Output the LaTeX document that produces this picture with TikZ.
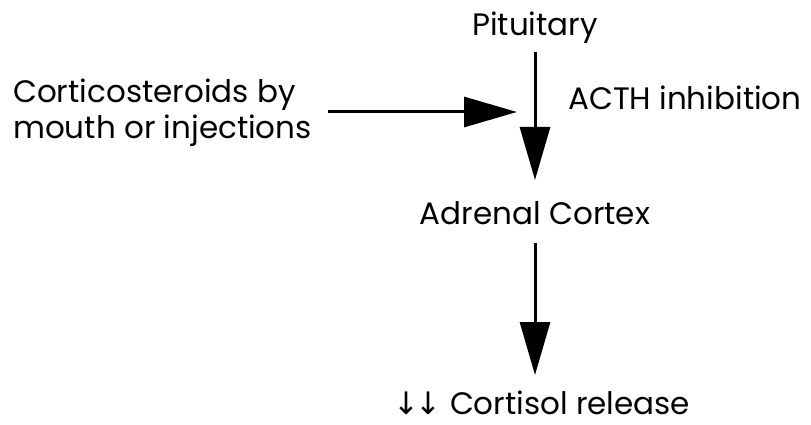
\documentclass[tikz,border=0pt]{standalone}
\usepackage{fontspec}
\setmainfont{Poppins}
\newfontfamily\symfont{DejaVu Sans}
\usetikzlibrary{positioning,arrows.meta}
\tikzset{
  lbl/.style={inner sep=0pt, font=\fontsize{31}{36}\selectfont, text=black},
  flow/.style={line width=3pt, -{Triangle[length=53pt,width=30pt]}}
}
\begin{document}
\begin{tikzpicture}[x=1pt,y=-1pt]
\useasboundingbox (0,0) rectangle (811,425);
\node[lbl] (pit) at (535,28) {Pituitary};
\node[lbl, align=left, anchor=west] (cort) at (13,113) {Corticosteroids by\\mouth or injections};
\node[lbl, anchor=west] (acth) at (568,98) {ACTH inhibition};
\node[lbl] (adr) at (535,213) {Adrenal Cortex};
\node[lbl] (rel) at (542,403) {{\symfont↓\kern-4pt↓} Cortisol release};
\coordinate (top) at (535,52);
\coordinate (mid) at (535,180);
\coordinate (start) at (328,112);
\coordinate (hit) at (517,112);
\coordinate (low) at (535,243);
\coordinate (bot) at (535,375);
\draw[flow] (top) -- (mid);
\draw[flow] (start) -- (hit);
\draw[flow] (low) -- (bot);
\end{tikzpicture}
\end{document}
